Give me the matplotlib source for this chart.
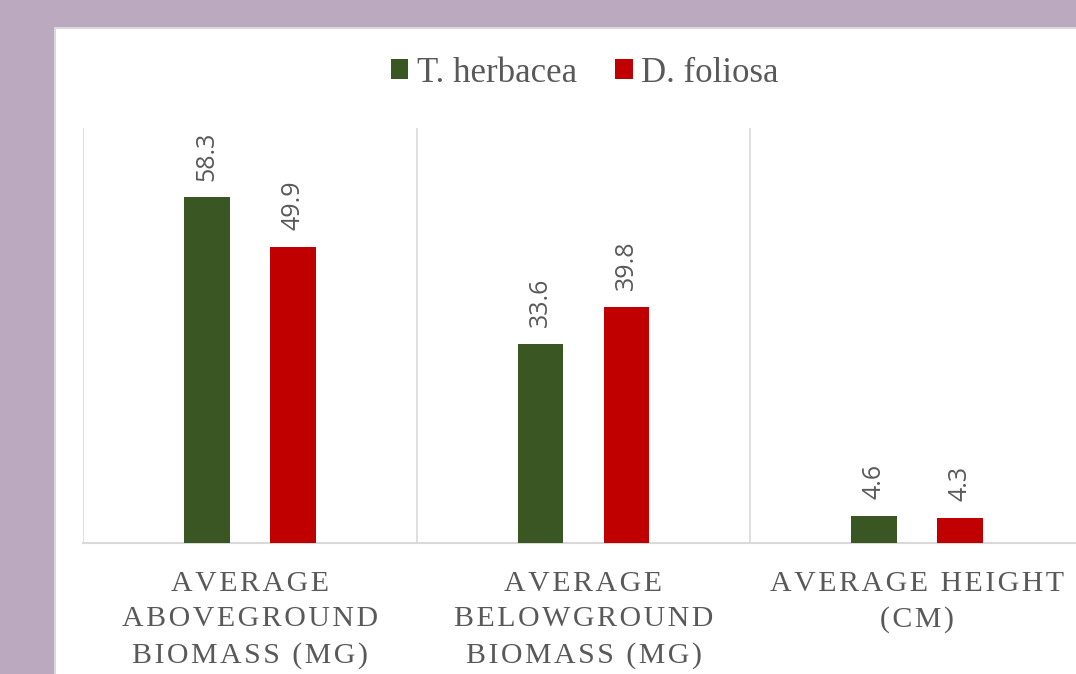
import matplotlib
matplotlib.use("Agg")
import matplotlib.pyplot as plt
from matplotlib.patches import Rectangle
import numpy as np

# data
categories = ["AVERAGE\nABOVEGROUND\nBIOMASS (MG)",
              "AVERAGE\nBELOWGROUND\nBIOMASS (MG)",
              "AVERAGE HEIGHT\n(CM)"]
herbacea = [58.3, 33.6, 4.6]
foliosa = [49.9, 39.8, 4.3]
series_names = ["T. herbacea", "D. foliosa"]

green = "#3A5623"
red = "#C00000"
grey = "#595959"
hair = "\u200a"


def spaced(s):
    # fake the wide letter spacing of the original labels
    return "\n".join(hair.join(line) for line in s.split("\n"))


fig = plt.figure(figsize=(10.76, 6.74), dpi=100)
fig.patch.set_facecolor("#BBA9BF")

# white chart panel
panel = Rectangle((55 / 1076, -0.1), 1.2, (674 - 28) / 674 + 0.1,
                  transform=fig.transFigure, facecolor="white",
                  edgecolor="#D9D9D9", linewidth=1.5, zorder=-10)
fig.patches.append(panel)

ax = fig.add_axes([83 / 1076, (674 - 543) / 674, (1084 - 83) / 1076, (543 - 128) / 674])
ax.set_facecolor("none")

x = np.arange(len(categories))
w = 0.137
off = 0.129
b1 = ax.bar(x - off, herbacea, w, color=green, label=series_names[0], zorder=3)
b2 = ax.bar(x + off, foliosa, w, color=red, label=series_names[1], zorder=3)

for bars in (b1, b2):
    for rect in bars:
        h = rect.get_height()
        ax.annotate(f"{h:.1f}", (rect.get_x() + rect.get_width() / 2, h),
                    xytext=(0, 12), textcoords="offset points",
                    rotation=90, ha="center", va="bottom",
                    fontsize=18, color=grey, family="Open Sans")

ax.set_xlim(-0.5, 2.5)
ax.set_ylim(0, 70)

# category separators
for xs in [-0.5, 0.5, 1.5, 2.5]:
    ax.axvline(xs, color="#D9D9D9", linewidth=1.2, zorder=1)

for s in ["top", "right", "left"]:
    ax.spines[s].set_visible(False)
ax.spines["bottom"].set_color("#D9D9D9")
ax.spines["bottom"].set_linewidth(1.5)
ax.set_yticks([])
ax.set_xticks(x)
ax.set_xticklabels([spaced(c) for c in categories], family="Liberation Serif",
                   fontsize=21.5, color=grey, linespacing=1.47)
ax.tick_params(axis="x", length=0, pad=20)

leg = fig.legend(loc="center", bbox_to_anchor=(585 / 1076, 1 - 73 / 674), ncol=2,
                 frameon=False, handlelength=0.5, handleheight=0.5,
                 handletextpad=0.25, columnspacing=1.1,
                 prop={"family": "Liberation Serif", "size": 25})
for t in leg.get_texts():
    t.set_color(grey)

fig.savefig("out.png", dpi=100, facecolor=fig.get_facecolor())
